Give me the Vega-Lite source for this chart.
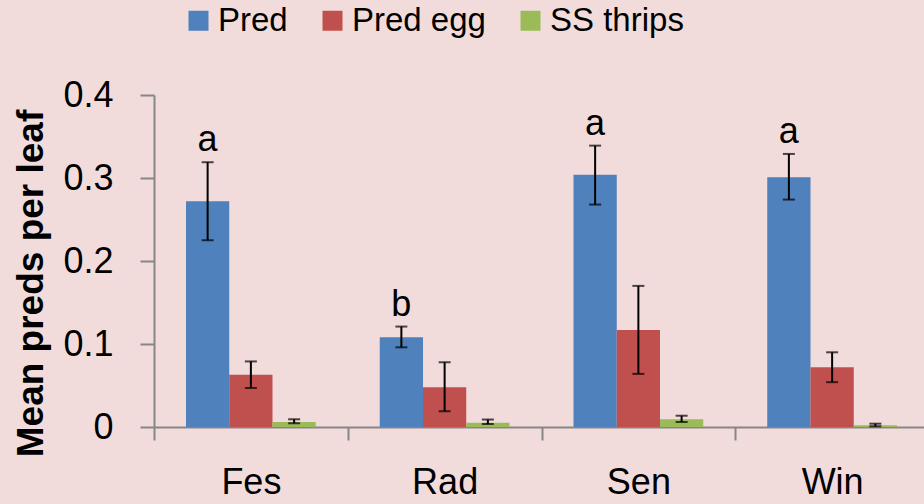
{
  "$schema": "https://vega.github.io/schema/vega-lite/v6.json",
  "width": 770,
  "height": 332,
  "autosize": {"type": "none"},
  "padding": {"left": 154, "top": 95, "right": 0, "bottom": 77},
  "background": "#f2dcdb",
  "config": {"view": {"stroke": null}, "font": "Liberation Sans"},
  "data": {
    "values": [
      {"site": "Fes", "series": "Pred", "mean": 0.272, "lo": 0.225, "hi": 0.319, "letter": "a"},
      {"site": "Fes", "series": "Pred egg", "mean": 0.063, "lo": 0.047, "hi": 0.079, "letter": ""},
      {"site": "Fes", "series": "SS thrips", "mean": 0.006, "lo": 0.0045, "hi": 0.0093, "letter": ""},
      {"site": "Rad", "series": "Pred", "mean": 0.108, "lo": 0.096, "hi": 0.121, "letter": "b"},
      {"site": "Rad", "series": "Pred egg", "mean": 0.048, "lo": 0.019, "hi": 0.078, "letter": ""},
      {"site": "Rad", "series": "SS thrips", "mean": 0.005, "lo": 0.0036, "hi": 0.009, "letter": ""},
      {"site": "Sen", "series": "Pred", "mean": 0.304, "lo": 0.268, "hi": 0.339, "letter": "a"},
      {"site": "Sen", "series": "Pred egg", "mean": 0.117, "lo": 0.064, "hi": 0.17, "letter": ""},
      {"site": "Sen", "series": "SS thrips", "mean": 0.0093, "lo": 0.006, "hi": 0.0136, "letter": ""},
      {"site": "Win", "series": "Pred", "mean": 0.301, "lo": 0.274, "hi": 0.329, "letter": "a"},
      {"site": "Win", "series": "Pred egg", "mean": 0.072, "lo": 0.054, "hi": 0.09, "letter": ""},
      {"site": "Win", "series": "SS thrips", "mean": 0.002, "lo": 0.0008, "hi": 0.004, "letter": ""}
    ]
  },
  "encoding": {
    "x": {
      "field": "site", "type": "nominal", "sort": ["Fes", "Rad", "Sen", "Win"],
      "scale": {"paddingInner": 0, "paddingOuter": 0, "range": [0, 775]},
      "axis": {
        "title": null, "labelAngle": 0, "labelFontSize": 36, "labelColor": "black",
        "domainColor": "#868686", "domainWidth": 2, "tickColor": "#868686", "tickWidth": 2,
        "tickSize": 13, "tickBand": "extent", "labelPadding": 25, "grid": false
      }
    },
    "xOffset": {
      "field": "series", "type": "nominal", "sort": ["Pred", "Pred egg", "SS thrips"],
      "scale": {"paddingInner": 0, "paddingOuter": 0.74}
    }
  },
  "layer": [
    {
      "mark": {"type": "bar"},
      "encoding": {
        "y": {
          "field": "mean", "type": "quantitative",
          "scale": {"domain": [0, 0.4], "nice": false, "zero": true},
          "axis": {
            "title": "Mean preds per leaf", "titleFontSize": 37, "titleFontWeight": "bold", "titleColor": "black",
            "titleX": -112, "titleY": 188, "titleAngle": -90, "titleBaseline": "alphabetic", "titleAlign": "center",
            "values": [0, 0.1, 0.2, 0.3, 0.4], "format": "~g",
            "labelFontSize": 36, "labelColor": "black", "labelPadding": 27,
            "domainColor": "#868686", "domainWidth": 2, "tickColor": "#868686", "tickWidth": 2, "tickSize": 14,
            "grid": false
          }
        },
        "color": {
          "field": "series", "type": "nominal",
          "scale": {"domain": ["Pred", "Pred egg", "SS thrips"], "range": ["#4f81bd", "#c0504d", "#9bbb59"]},
          "legend": {
            "title": null, "orient": "none", "legendX": 28, "legendY": -91, "direction": "horizontal",
            "symbolType": "square", "symbolSize": 400, "symbolStrokeWidth": 0, "symbolOpacity": 1,
            "labelFontSize": 33, "labelColor": "black", "columnPadding": 28, "labelOffset": 3
          }
        }
      }
    },
    {
      "mark": {"type": "rule", "color": "black", "strokeWidth": 2},
      "encoding": {
        "y": {"field": "lo", "type": "quantitative"},
        "y2": {"field": "hi"}
      }
    },
    {
      "mark": {"type": "tick", "color": "black", "thickness": 2, "size": 12},
      "encoding": {"y": {"field": "lo", "type": "quantitative"}}
    },
    {
      "mark": {"type": "tick", "color": "black", "thickness": 2, "size": 12},
      "encoding": {"y": {"field": "hi", "type": "quantitative"}}
    },
    {
      "transform": [{"filter": "datum.letter != ''"}],
      "mark": {"type": "text", "fontSize": 36, "baseline": "alphabetic", "dy": -11, "color": "black"},
      "encoding": {
        "y": {"field": "hi", "type": "quantitative"},
        "text": {"field": "letter"}
      }
    }
  ]
}
